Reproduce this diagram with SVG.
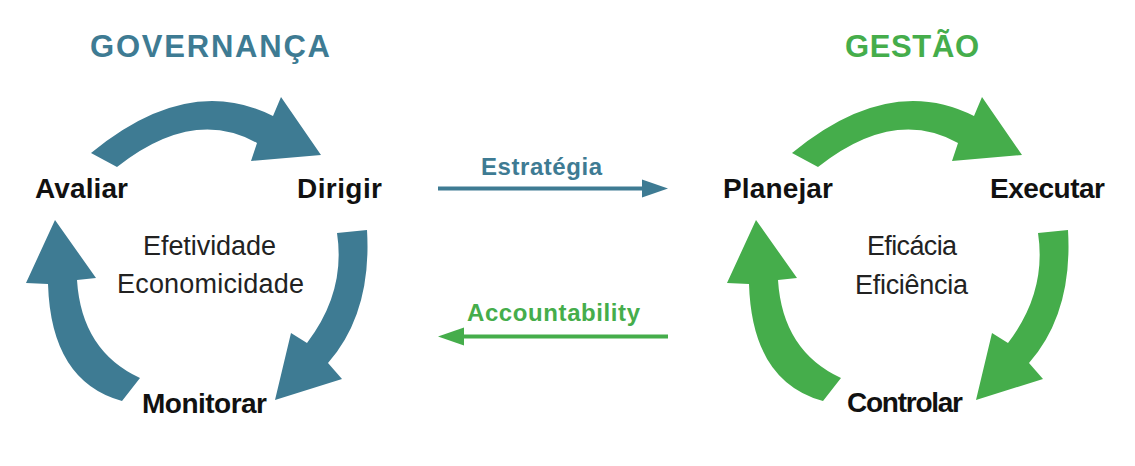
<svg xmlns="http://www.w3.org/2000/svg" width="1135" height="466" viewBox="0 0 1135 466">
<style>
.title{font-family:"Liberation Sans",Arial,sans-serif;font-weight:bold;font-size:31px}
.lbl{font-family:"Liberation Sans",Arial,sans-serif;font-weight:bold;font-size:28px;fill:#111}
.mid{font-family:"Liberation Sans",Arial,sans-serif;font-size:27px;fill:#222}
.conn{font-family:"Liberation Sans",Arial,sans-serif;font-weight:bold;font-size:24px}
.blue{fill:#3e7b93}
.green{fill:#45ad4b}
</style>
<defs>
<g id="cycle">
<path d="M91,153 Q188,73 273,116 L281,97 L321,155 L251,161 L257,143 Q193,107 117,167 Z"/>
<path d="M337,233 L367,230 Q372,313 328,363 L342,379 L275,400 L291,333 L307,343 Q346,292 337,233 Z"/>
<path d="M122,401 Q51,381.5 48,284 L26,283 L55,220 L96,278 L77,280 Q81.5,351 140,378 Z"/>
</g>
</defs>
<g id="titles">
<text id="t-governanca" class="title blue" x="90" y="57" textLength="240">GOVERNANÇA</text>
<text id="t-gestao" class="title green" x="845" y="57" textLength="134">GESTÃO</text>
</g>
<g id="connectors">
<use href="#cycle" class="blue"/>
<use href="#cycle" class="green" transform="translate(701,0)"/>
<g id="estrategia">
<line x1="438" y1="188.5" x2="645" y2="188.5" stroke="#3e7b93" stroke-width="4"/>
<polygon class="blue" points="642,179.5 668,188.5 642,197.5"/>
<text class="conn blue" x="481" y="175" textLength="121">Estratégia</text>
</g>
<g id="accountability">
<line x1="668" y1="336.5" x2="460" y2="336.5" stroke="#45ad4b" stroke-width="4"/>
<polygon class="green" points="464,327.5 438,336.5 464,345.5"/>
<text class="conn green" x="467" y="321" textLength="173">Accountability</text>
</g>
</g>
<g id="avaliar"><text class="lbl" x="35" y="198" textLength="93">Avaliar</text></g>
<g id="dirigir"><text class="lbl" x="297" y="198" textLength="85">Dirigir</text></g>
<g id="monitorar"><text class="lbl" x="142" y="413" textLength="125">Monitorar</text></g>
<g id="governanca-center">
<text class="mid" x="143" y="255" textLength="133">Efetividade</text>
<text class="mid" x="117" y="293" textLength="187">Economicidade</text>
</g>
<g id="planejar"><text class="lbl" x="723" y="198" textLength="110">Planejar</text></g>
<g id="executar"><text class="lbl" x="990" y="198" textLength="115">Executar</text></g>
<g id="controlar"><text class="lbl" x="847" y="412" textLength="116">Controlar</text></g>
<g id="gestao-center">
<text class="mid" x="867" y="255" textLength="90">Eficácia</text>
<text class="mid" x="855" y="294" textLength="113">Eficiência</text>
</g>
</svg>
